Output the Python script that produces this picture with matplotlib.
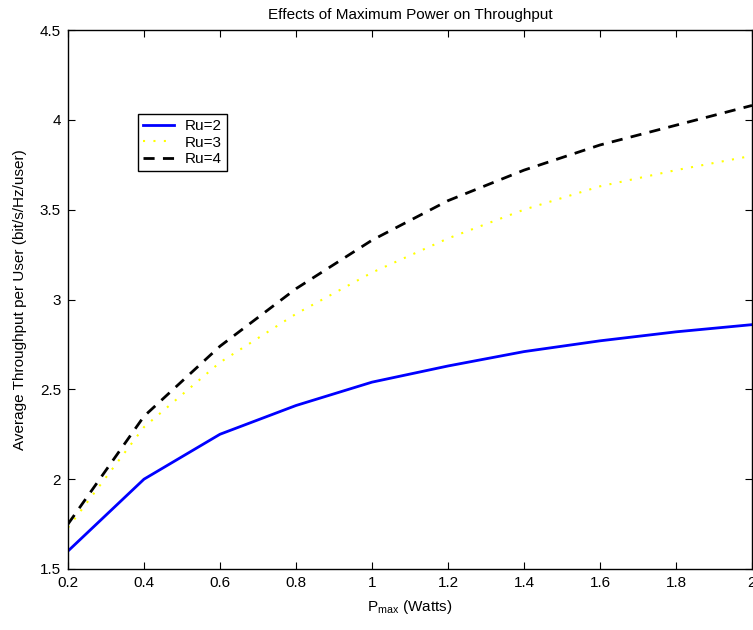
import matplotlib
matplotlib.use("Agg")
import matplotlib.pyplot as plt

plt.rcParams['font.family'] = ['Liberation Sans', 'DejaVu Sans']

pmax = [0.2, 0.4, 0.6, 0.8, 1.0, 1.2, 1.4, 1.6, 1.8, 2.0]
ru2 = [1.60, 2.00, 2.25, 2.41, 2.54, 2.63, 2.71, 2.77, 2.82, 2.86]
ru3 = [1.73, 2.29, 2.65, 2.92, 3.15, 3.34, 3.50, 3.63, 3.72, 3.80]
ru4 = [1.75, 2.35, 2.74, 3.06, 3.33, 3.55, 3.72, 3.86, 3.97, 4.08]
xticks = [0.2, 0.4, 0.6, 0.8, 1.0, 1.2, 1.4, 1.6, 1.8, 2.0]
xticklabels = ['0.2', '0.4', '0.6', '0.8', '1', '1.2', '1.4', '1.6', '1.8', '2']
yticks = [1.5, 2, 2.5, 3, 3.5, 4, 4.5]
yticklabels = ['1.5', '2', '2.5', '3', '3.5', '4', '4.5']

fig = plt.figure(figsize=(7.53, 6.30), dpi=100)
W, H = 753, 630
ax = fig.add_axes([68 / W, (H - 569) / H, (752 - 68) / W, (569 - 30) / H])

ax.plot(pmax, ru2, color='#0000ff', lw=2.0, label='Ru=2')
ax.plot(pmax, ru3, color='#ffff00', lw=1.5, ls=(0, (1, 4)), label='Ru=3')
ax.plot(pmax, ru4, color='black', lw=2.0, ls=(0, (4, 3)), label='Ru=4')

ax.set_xlim(0.2, 2.0)
ax.set_ylim(1.5, 4.5)
ax.set_xticks(xticks)
ax.set_xticklabels(xticklabels)
ax.set_yticks(yticks)
ax.set_yticklabels(yticklabels)
ax.tick_params(direction='in', top=True, right=True, labelsize=11, length=5, pad=5)
for s in ax.spines.values():
    s.set_linewidth(1.0)

ax.set_title('Effects of Maximum Power on Throughput', fontsize=11, pad=8)
ax.set_xlabel(r'P$_{\mathregular{max}}$ (Watts)', fontsize=11, labelpad=6)
ax.set_ylabel('Average Throughput per User (bit/s/Hz/user)', fontsize=11, labelpad=9)

leg = ax.legend(loc='upper left', bbox_to_anchor=((138 - 68) / 684, (569 - 114) / 539),
                fontsize=11, frameon=True, fancybox=False, edgecolor='black',
                framealpha=1, borderpad=0.35, labelspacing=0.15, handlelength=2.0,
                handletextpad=0.7, borderaxespad=0)
leg.get_frame().set_linewidth(1.0)

fig.savefig('out.png', dpi=100)
